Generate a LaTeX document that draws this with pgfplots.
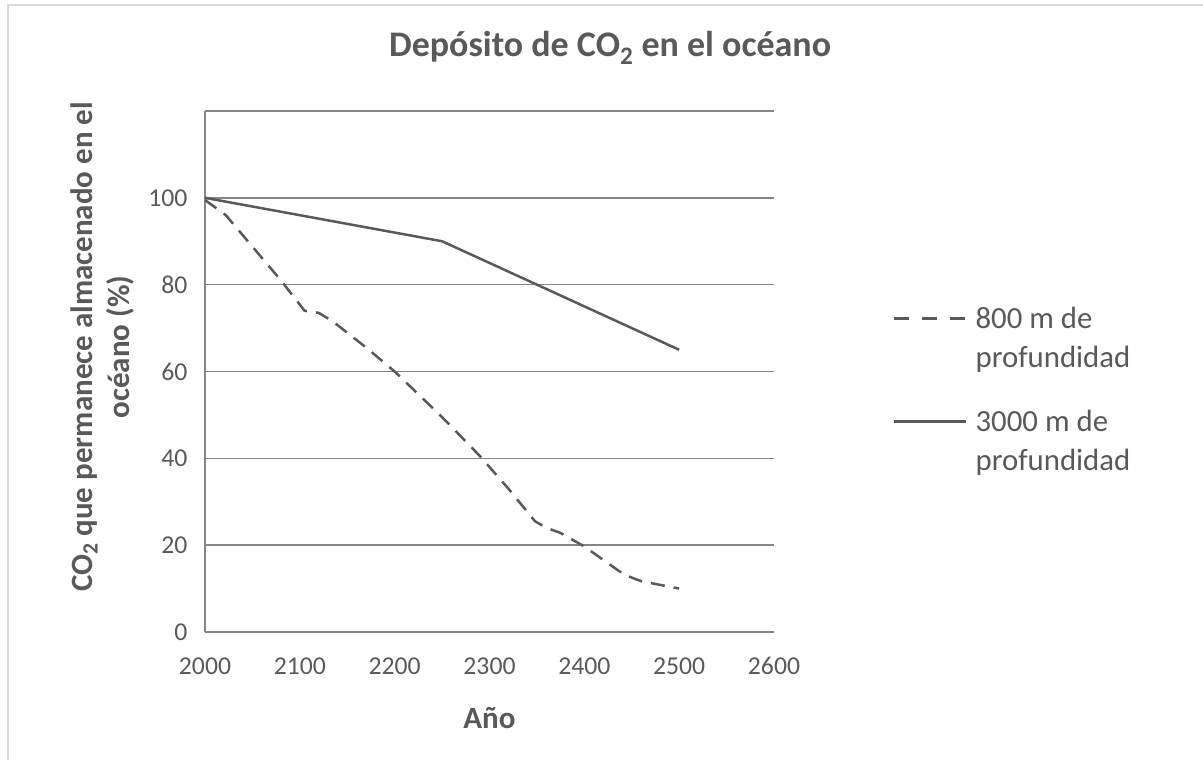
\documentclass[border=0pt]{standalone}
\usepackage{pgfplots}
\pgfplotsset{compat=1.18}
\usepackage{fontspec}
\setmainfont{Carlito}
\definecolor{txt}{HTML}{595959}
\definecolor{grd}{HTML}{868686}
\definecolor{frm}{HTML}{D9D9D9}
\definecolor{ser}{HTML}{595959}

\begin{document}
\begin{tikzpicture}
\begin{axis}[
    anchor=origin, at={(0pt,0pt)},
    scale only axis, width=569pt, height=521pt,
    xmin=2000, xmax=2600, ymin=0, ymax=120,
    xtick={2000,2100,...,2600},
    xticklabels={2000,2100,2200,2300,2400,2500,2600},
    ytick={0,20,...,120},
    yticklabels={0,20,40,60,80,100,{}},
    axis lines=left,
    axis line style={-, grd, line width=1.5pt},
    ymajorgrids,
    grid style={grd, line width=1.5pt},
    major tick length=0pt,
    xticklabel style={font=\fontsize{25.7}{30}\selectfont, text=txt, yshift=-22pt},
    yticklabel style={font=\fontsize{25.7}{30}\selectfont, text=txt, xshift=-14pt},
    title={Depósito de CO\textsubscript{2} en el océano},
    title style={at={(rel axis cs:0.712,1.110)}, anchor=center, font=\fontsize{36}{40}\selectfont\bfseries, text=txt},
    xlabel={Año},
    xlabel style={at={(rel axis cs:0.5,-0.165)}, anchor=center, font=\fontsize{31}{36}\selectfont\bfseries, text=txt},
    ylabel={CO\textsubscript{2} que permanece almacenado en el\\océano (\%)},
    ylabel style={at={(rel axis cs:-0.181,0.547)}, anchor=center, align=center, font=\fontsize{31}{37}\selectfont\bfseries, text=txt},
    legend style={draw=none, fill=none, at={(rel axis cs:1.209,0.628)}, anchor=north west,
        font=\fontsize{30.8}{39}\selectfont, text=txt, inner sep=0pt, row sep=37pt, column sep=6pt},
    legend image code/.code={\draw[#1] (0pt,19.5pt) -- (72pt,19.5pt);},
    legend cell align=left,
]
\addplot[ser, line width=2.5pt, dash pattern=on 14pt off 9pt, line join=round,
    legend image post style={dash pattern=on 15pt off 13pt}] coordinates {
    (2000,99.5) (2022,96) (2080,81) (2105,74) (2120,73.5) (2135,71.5)
    (2170,65.5) (2200,60) (2250,49.5) (2290,40.5) (2320,33) (2348,25.5)
    (2360,24) (2375,22.8) (2400,19.7) (2442,13.2) (2460,11.7) (2500,10)
};
\addlegendentry[align=left]{800 m de\\profundidad}
\addplot[ser, line width=2.5pt, line join=round] coordinates {
    (2000,100) (2250,90) (2500,65)
};
\addlegendentry[align=left]{3000 m de\\profundidad}
\end{axis}
\draw[frm, line width=1.5pt] (-197pt,-140pt) -- (-197pt,627pt) -- (1010pt,627pt);
\pgfresetboundingbox
\path[use as bounding box] (-205pt,-128pt) rectangle (998pt,632pt);
\end{tikzpicture}
\end{document}
